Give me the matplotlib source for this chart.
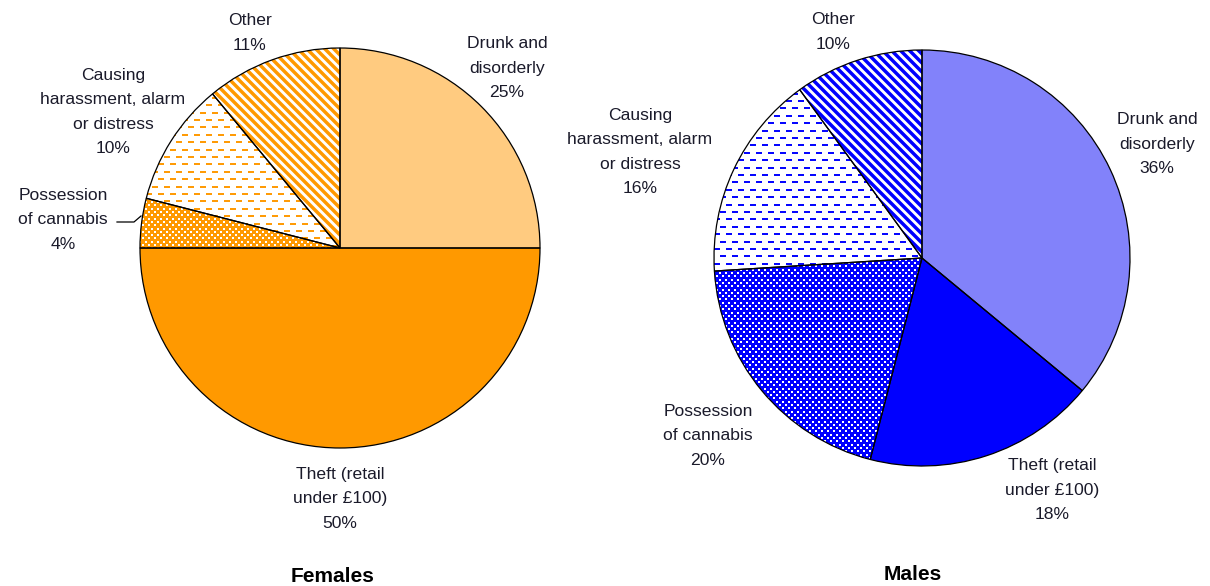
import numpy as np
import matplotlib
matplotlib.use("Agg")
import matplotlib.pyplot as plt
from matplotlib.collections import LineCollection

plt.rcParams['font.family'] = ['Liberation Sans', 'DejaVu Sans']

categories = ["Drunk and\ndisorderly", "Theft (retail\nunder £100)", "Possession\nof cannabis",
              "Causing\nharassment, alarm\nor distress", "Other"]
females = [25, 50, 4, 10, 11]
males = [36, 18, 20, 16, 10]
titles = ["Females", "Males"]

W, H = 1210, 586
fig = plt.figure(figsize=(W / 100, H / 100), dpi=100)
ax = fig.add_axes([0, 0, 1, 1])


def Y(ypx):
    return H - ypx


def stripes(ax, wedge, color, cx, cy, r):
    segs = []
    for c in np.arange(cx + cy - 2 * r - 10, cx + cy + 2 * r + 10, 9.0):
        x0, x1 = cx - r - 5, cx + r + 5
        segs.append([(x0, c - x0), (x1, c - x1)])
    lc = LineCollection(segs, colors=color, linewidths=2.5, zorder=3)
    lc.set_clip_path(wedge)
    ax.add_collection(lc)


def dashes(ax, wedge, color, cx, cy, r):
    segs = []
    for i, y in enumerate(np.arange(cy - r - 5, cy + r + 5, 7.4)):
        off = 0 if i % 2 == 0 else 6
        for x in np.arange(cx - r - 12 + off, cx + r + 12, 12.0):
            segs.append([(x, y), (x + 5.5, y)])
    lc = LineCollection(segs, colors=color, linewidths=1.4, zorder=3)
    lc.set_clip_path(wedge)
    ax.add_collection(lc)


def dots(ax, wedge, cx, cy, r):
    xs, ys = [], []
    for i, y in enumerate(np.arange(cy - r - 5, cy + r + 5, 3.3)):
        off = 0 if i % 2 == 0 else 3.0
        for x in np.arange(cx - r - 6 + off, cx + r + 6, 6.0):
            xs.append(x)
            ys.append(y)
    sc = ax.scatter(xs, ys, s=3.2, marker='s', c='white', linewidths=0, zorder=3)
    sc.set_clip_path(wedge)


def draw_pie(values, center, r, base, light):
    cx, cy = center
    wedges, _ = ax.pie(values, center=center, radius=r, startangle=90, counterclock=False,
                       colors=[light, base, base, 'white', 'white'],
                       wedgeprops=dict(edgecolor='none', linewidth=0),
                       frame=True)
    dots(ax, wedges[2], cx, cy, r)
    dashes(ax, wedges[3], base, cx, cy, r)
    stripes(ax, wedges[4], base, cx, cy, r)
    ax.pie(values, center=center, radius=r, startangle=90, counterclock=False,
           colors=['none'] * len(values),
           wedgeprops=dict(edgecolor='black', linewidth=0.9, zorder=5), frame=True)
    return wedges


draw_pie(females, (340, Y(248)), 200, '#FF9900', '#FFCB80')
draw_pie(males, (922, Y(258)), 208, '#0000FF', '#8282FA')

ax.set_xlim(0, W)
ax.set_ylim(0, H)
ax.set_aspect('auto')
ax.axis('off')

fs = 12.6
ls = 1.78
lab_f = [
    (507, 68, f"{categories[0]}\n{females[0]}%"),
    (340, 499, f"{categories[1]}\n{females[1]}%"),
    (63, 220, f"{categories[2]}\n{females[2]}%"),
    (113, 112, f"{categories[3]}\n{females[3]}%"),
    (250, 33, f"{categories[4]}\n{females[4]}%"),
]
lab_m = [
    (1157, 144, f"{categories[0]}\n{males[0]}%"),
    (1052, 490, f"{categories[1]}\n{males[1]}%"),
    (708, 436, f"{categories[2]}\n{males[2]}%"),
    (640, 152, f"{categories[3]}\n{males[3]}%"),
    (833, 32, f"{categories[4]}\n{males[4]}%"),
]
for x, y, t in lab_f + lab_m:
    ax.text(x, Y(y), t, ha='center', va='center', fontsize=fs, linespacing=ls, color='#1a1a2a')

ax.plot([117, 134, 141], [Y(222), Y(222), Y(216)], color='black', lw=0.9)

ax.text(333, Y(576), titles[0], ha='center', va='center', fontsize=15, fontweight='bold')
ax.text(913, Y(574), titles[1], ha='center', va='center', fontsize=15, fontweight='bold')

fig.savefig("out.png", dpi=100)
